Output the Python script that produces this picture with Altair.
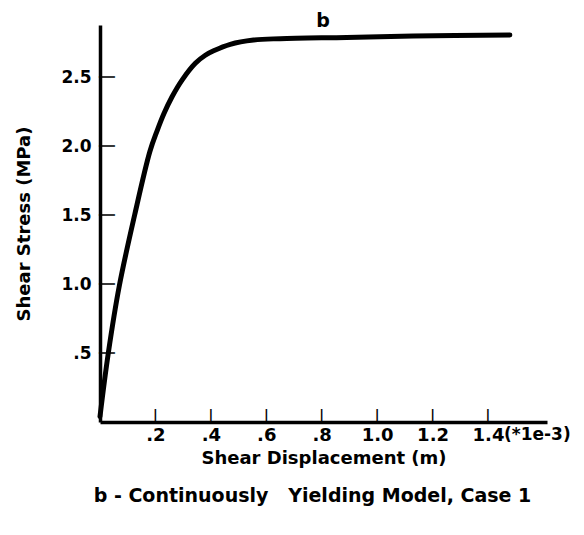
import altair as alt
import pandas as pd

# Curve (displacement in 1e-3 m, stress in MPa)
disp = [0.0, 0.03, 0.07, 0.125, 0.18, 0.206, 0.23, 0.26, 0.296, 0.344,
        0.38, 0.41, 0.47, 0.554, 0.65, 0.89, 1.13, 1.479]
stress = [0.04, 0.5, 0.99, 1.5, 1.96, 2.11, 2.232, 2.357, 2.478, 2.6,
          2.658, 2.69, 2.737, 2.768, 2.778, 2.787, 2.797, 2.804]

x_ticks = [0.2, 0.4, 0.6, 0.8, 1.0, 1.2, 1.4]
y_ticks = [0.5, 1.0, 1.5, 2.0, 2.5]

x_max = 1.613
y_max = 2.877

curve_label = ["b"]
curve_label_x = [0.805]
curve_label_y = [2.862]

unit_label = ["(*1e-3)"]
unit_label_x = [1.4]
unit_label_y = [0.0]

x_title = "Shear Displacement (m)"
y_title = "Shear Stress (MPa)"
caption = "b - Continuously\u00a0\u00a0\u00a0Yielding Model, Case 1"

W, H = 447, 397
FONT = "DejaVu Sans"

curve_df = pd.DataFrame({"x": disp, "y": stress})
xt_df = pd.DataFrame({"xc": x_ticks, "yc": [0.0] * len(x_ticks),
                      "t": ["|"] * len(x_ticks)})
yt_df = pd.DataFrame({"yc": y_ticks, "xc": [0.0] * len(y_ticks),
                      "t": ["|"] * len(y_ticks)})
lab_df = pd.DataFrame({"x": curve_label_x, "y": curve_label_y, "t": curve_label})
unit_df = pd.DataFrame({"x": unit_label_x, "y": unit_label_y, "t": unit_label})

xscale = alt.Scale(domain=[0, x_max], nice=False, zero=False)
yscale = alt.Scale(domain=[0, y_max], nice=False, zero=False)

lab_expr = "datum.value < 1 ? replace(format(datum.value, '.1f'), '0.', '.') : format(datum.value, '.1f')"

x_axis = alt.Axis(values=x_ticks, labelExpr=lab_expr, ticks=False, grid=False,
                  domainColor="black", domainWidth=3.5, labelFont=FONT,
                  labelFontWeight="bold", labelFontSize=18, labelColor="black",
                  labelPadding=4, title=x_title, titleFont=FONT, titleFontSize=18,
                  titleFontWeight="bold", titleColor="black", titleY=41,
                  titleBaseline="alphabetic")
y_axis = alt.Axis(values=y_ticks, labelExpr=lab_expr, ticks=False, grid=False,
                  domainColor="black", domainWidth=3.5, labelFont=FONT,
                  labelFontWeight="bold", labelFontSize=17, labelColor="black",
                  labelPadding=9, title=y_title, titleFont=FONT, titleFontSize=18,
                  titleFontWeight="bold", titleColor="black", titleX=-67,
                  titleBaseline="bottom")

curve = alt.Chart(curve_df).mark_line(
    color="black", strokeWidth=5, interpolate="catmull-rom", strokeCap="round"
).encode(
    x=alt.X("x:Q", scale=xscale, axis=x_axis),
    y=alt.Y("y:Q", scale=yscale, axis=y_axis),
)

# inward tick marks drawn as bold bar glyphs
xtick_glyphs = alt.Chart(xt_df).mark_text(
    font=FONT, fontWeight="bold", fontSize=13, color="black",
    baseline="bottom", align="center"
).encode(x=alt.X("xc:Q", scale=xscale), y=alt.Y("yc:Q", scale=yscale), text="t:N")

ytick_glyphs = alt.Chart(yt_df).mark_text(
    font=FONT, fontWeight="bold", fontSize=15, color="black",
    baseline="bottom", align="center", angle=90
).encode(x=alt.X("xc:Q", scale=xscale), y=alt.Y("yc:Q", scale=yscale), text="t:N")

blabel = alt.Chart(lab_df).mark_text(
    font=FONT, fontWeight="bold", fontSize=19, color="black",
    baseline="alphabetic", align="center"
).encode(x=alt.X("x:Q", scale=xscale), y=alt.Y("y:Q", scale=yscale), text="t:N")

ulabel = alt.Chart(unit_df).mark_text(
    font=FONT, fontWeight="bold", fontSize=17, color="black",
    baseline="top", align="left", dx=16, dy=5
).encode(x=alt.X("x:Q", scale=xscale), y=alt.Y("y:Q", scale=yscale), text="t:N")

chart = alt.layer(curve, xtick_glyphs, ytick_glyphs, blabel, ulabel).properties(
    width=W, height=H,
    autosize=alt.AutoSizeParams(type="none"),
    padding={"left": 92, "top": 17, "right": 29, "bottom": 100},
    title=alt.TitleParams(caption, orient="bottom", font=FONT, fontSize=19,
                          fontWeight="bold", color="black", offset=20, dx=-11),
).configure_view(stroke=None)

chart.save("out.html", embed_options={"renderer": "svg", "actions": False})
